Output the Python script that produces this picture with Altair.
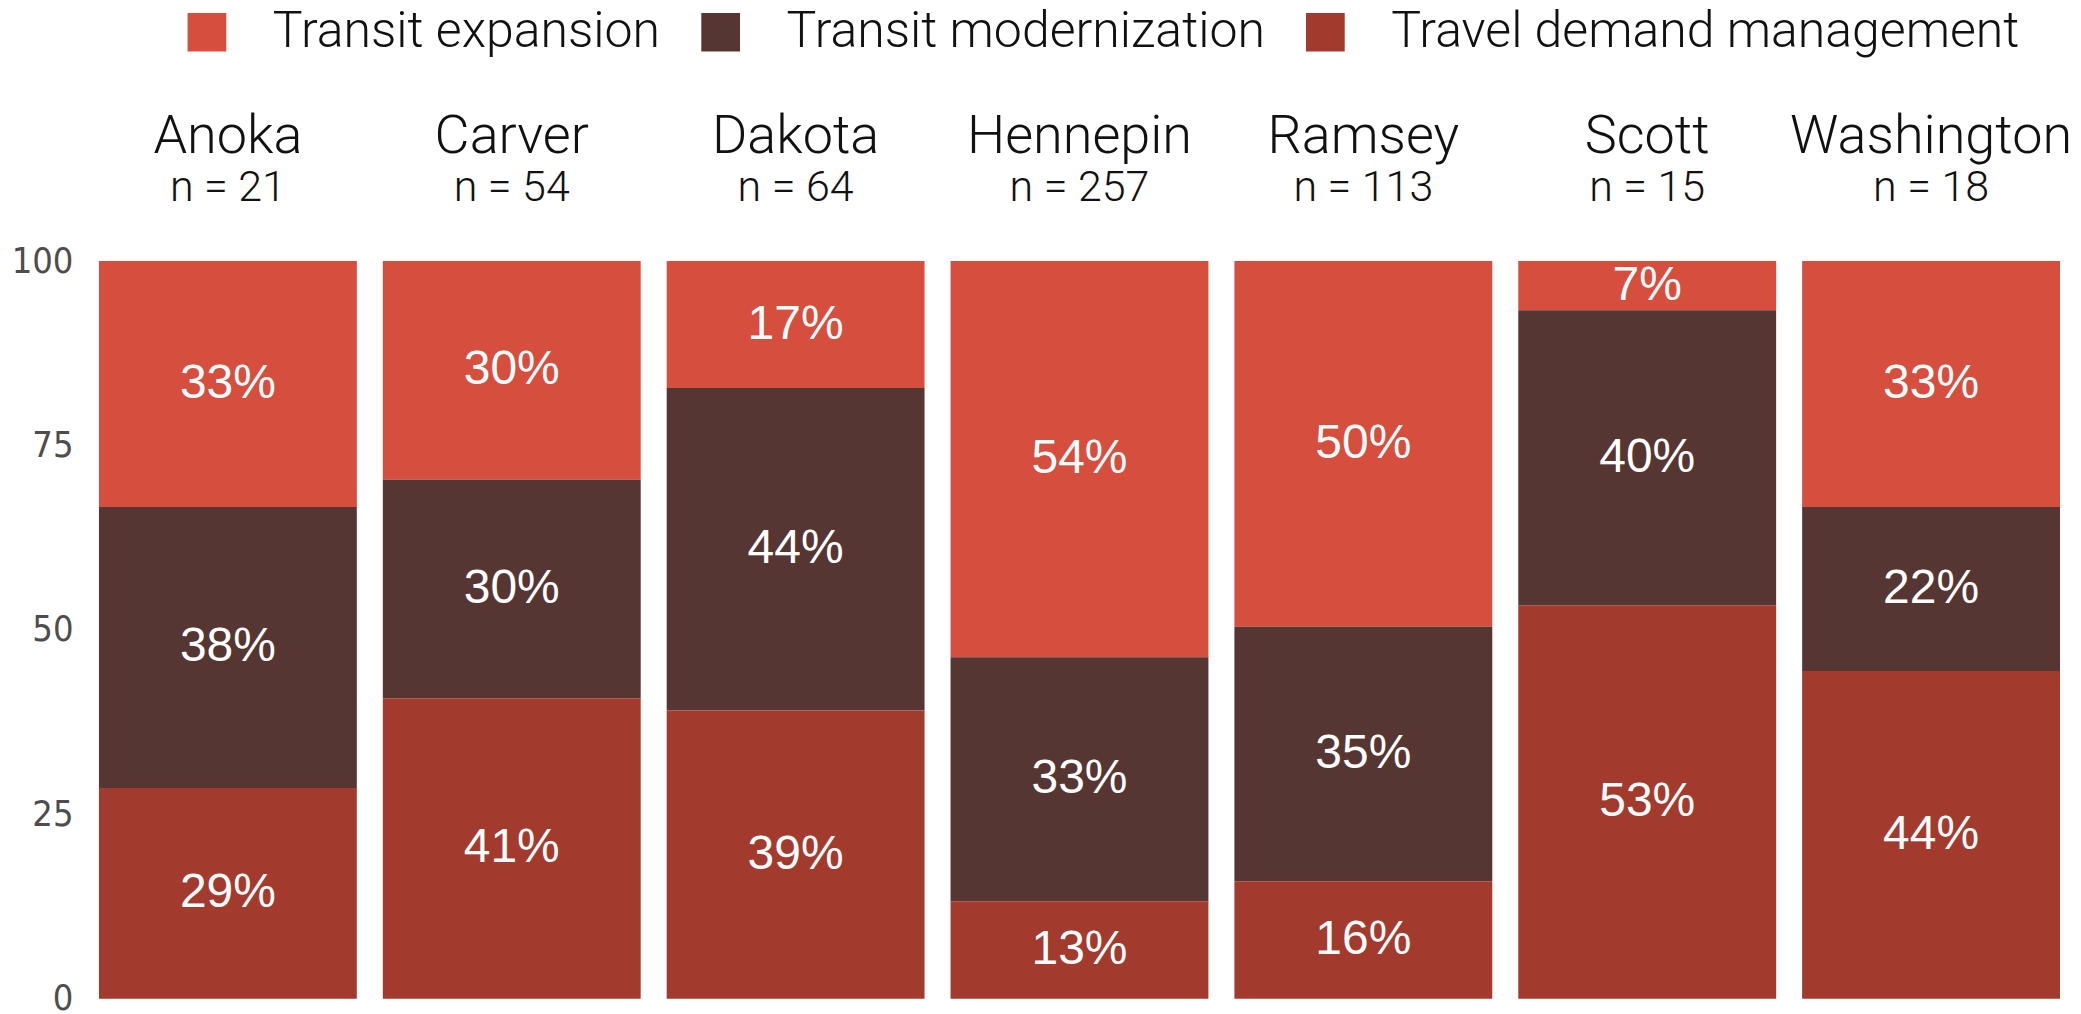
import altair as alt
import pandas as pd

counties = ["Anoka", "Carver", "Dakota", "Hennepin", "Ramsey", "Scott", "Washington"]
sample_sizes = [21, 54, 64, 257, 113, 15, 18]
categories = ["Transit expansion", "Transit modernization", "Travel demand management"]
expansion = [7, 16, 11, 138, 56, 1, 6]
modernization = [8, 16, 28, 85, 39, 6, 4]
demand_mgmt = [6, 22, 25, 34, 18, 8, 8]
colors = ["#D54E3E", "#563632", "#A33A2E"]
stack_rank = [2, 1, 0]  # bottom-up order: demand mgmt, modernization, expansion
y_ticks = [0, 25, 50, 75, 100]

rows = []
for i, c in enumerate(counties):
    for cat, vals, rank in zip(categories, [expansion, modernization, demand_mgmt], stack_rank):
        rows.append({"county": c, "n": sample_sizes[i], "category": cat,
                     "count": vals[i], "rank": rank})
df = pd.DataFrame(rows)

W, H = 258, 738
AXIS_FONT = 36

legend = alt.Legend(
    orient="none", legendX=83, legendY=-254, direction="horizontal", title=None,
    symbolType="square", symbolSize=1500, symbolStrokeWidth=0,
    labelFont="Roboto", labelFontSize=50, labelFontWeight=300, labelColor="#111111",
    labelOffset=41, columnPadding=35, padding=0, rowPadding=0, labelLimit=1000,
)


def panel(i, c):
    base = (
        alt.Chart(df)
        .transform_filter(alt.datum.county == c)
        .transform_calculate(pct="100*datum.count/datum.n")
        .transform_stack(stack="pct", groupby=["county"], as_=["y0", "y1"],
                         sort=[alt.SortField("rank", order="ascending")])
        .transform_calculate(ymid="(datum.y0+datum.y1)/2",
                             label="round(datum.pct) + '%'")
    )
    if i == 0:
        yaxis = alt.Axis(values=y_ticks, domain=False, ticks=False, grid=False,
                         labelFont="'Liberation Sans Narrow', 'DejaVu Sans Condensed', sans-serif",
                         labelFontSize=AXIS_FONT, labelColor="#4d4d4d",
                         labelPadding=26, title=None)
    else:
        yaxis = None
    yscale = alt.Scale(domain=[0, 100], nice=False)
    bars = base.mark_bar().encode(
        x=alt.value(0), x2=alt.value(W),
        y=alt.Y("y0:Q", scale=yscale, axis=yaxis, title=None),
        y2="y1:Q",
        color=alt.Color("category:N", scale=alt.Scale(domain=categories, range=colors),
                        legend=legend),
    )
    text = base.mark_text(font="Liberation Sans", fontSize=48, color="white",
                          baseline="middle", align="center").encode(
        x=alt.value(W / 2),
        y=alt.Y("ymid:Q", scale=yscale, axis=yaxis, title=None),
        text="label:N",
    )
    title = alt.TitleParams(
        text=c, subtitle=f"n = {sample_sizes[i]}", anchor="middle", frame="group",
        font="Roboto", fontSize=54, fontWeight=300, color="#111111",
        subtitleFont="Roboto", subtitleFontSize=43, subtitleFontWeight=300,
        subtitleColor="#111111", subtitlePadding=3,
        offset=51 - AXIS_FONT // 2 if i == 0 else 51,
    )
    return alt.layer(bars, text).properties(width=W, height=H, title=title)


chart = (
    alt.hconcat(*[panel(i, c) for i, c in enumerate(counties)], spacing=26, bounds="flush")
    .properties(padding={"left": 3, "top": -1, "right": 0, "bottom": 0})
    .configure_view(stroke=None)
)

chart.save("out.html", embed_options={"renderer": "svg", "actions": False})
